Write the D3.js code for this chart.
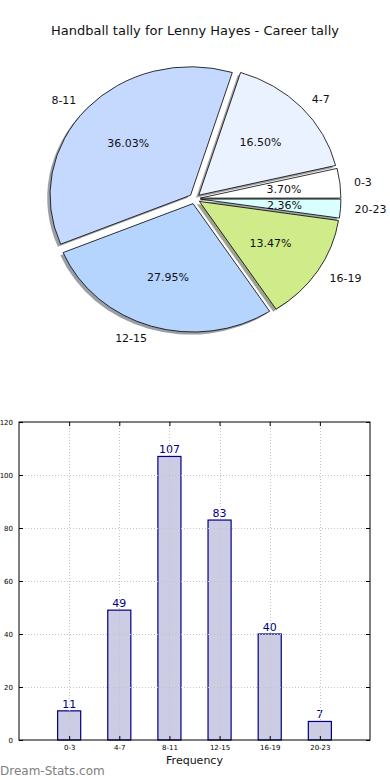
<!DOCTYPE html>
<html>
<head>
<meta charset="utf-8">
<script src="https://cdn.jsdelivr.net/npm/d3@7"></script>
<style>
  body { margin: 0; background: #fff; }
  svg { display: block; font-family: "DejaVu Sans", sans-serif; }
</style>
</head>
<body>
<svg id="chart" width="390" height="780" viewBox="0 0 390 780"></svg>
<script>
const categories = ["0-3", "4-7", "8-11", "12-15", "16-19", "20-23"];
const counts = [11, 49, 107, 83, 40, 7];
const pieColors = ["#ffffff", "#ebf2ff", "#c5d9ff", "#b5d5ff", "#d0eb8a", "#daffff"];
const yTicks = [0, 20, 40, 60, 80, 100, 120];

const svg = d3.select("#chart");
const total = d3.sum(counts);

svg.append("text")
  .attr("x", 195)
  .attr("y", 35)
  .attr("text-anchor", "middle")
  .attr("font-size", 13)
  .attr("fill", "#111")
  .text("Handball tally for Lenny Hayes - Career tally");

// pie (elliptical, like an unequal-aspect matplotlib pie)
const cx = 194.7, cy = 198.7, rx = 140.6, ry = 128.5;
const explode = 0.04;

const pie = d3.pie()
  .sort(null)
  .startAngle(Math.PI / 2)
  .endAngle(Math.PI / 2 - 2 * Math.PI)
  .value(d => d);

const arcs = pie(counts);
const arc = d3.arc().innerRadius(0).outerRadius(1);

// d3 angle -> offset direction (screen coords)
const dir = a => [Math.sin(a), -Math.cos(a)];

const slices = arcs.map((a, i) => {
  const mid = (a.startAngle + a.endAngle) / 2;
  const [ux, uy] = dir(mid);
  return {
    a, i, ux, uy,
    ox: cx + explode * rx * ux,
    oy: cy + explode * ry * uy
  };
});

const pieG = svg.append("g");

pieG.selectAll(".shadow")
  .data(slices)
  .join("path")
  .attr("class", "shadow")
  .attr("transform", d => `translate(${d.ox - 0.02 * rx}, ${d.oy + 0.02 * ry}) scale(${rx}, ${ry})`)
  .attr("d", d => arc(d.a))
  .attr("fill", d => {
    const c = d3.rgb(pieColors[d.i]);
    return d3.rgb(c.r * 0.3, c.g * 0.3, c.b * 0.3);
  })
  .attr("opacity", 0.5);

pieG.selectAll(".wedge")
  .data(slices)
  .join("path")
  .attr("class", "wedge")
  .attr("transform", d => `translate(${d.ox}, ${d.oy}) scale(${rx}, ${ry})`)
  .attr("d", d => arc(d.a))
  .attr("fill", d => pieColors[d.i])
  .attr("stroke", "#000")
  .attr("stroke-width", 0.8)
  .attr("vector-effect", "non-scaling-stroke")
  .attr("stroke-linejoin", "round");

pieG.selectAll(".plabel")
  .data(slices)
  .join("text")
  .attr("class", "plabel")
  .attr("x", d => d.ox + 1.1 * rx * d.ux)
  .attr("y", d => d.oy + 1.1 * ry * d.uy)
  .attr("dy", "0.35em")
  .attr("text-anchor", d => d.ux < 0 ? "end" : "start")
  .attr("font-size", 11)
  .attr("fill", "#111")
  .text(d => categories[d.i]);

pieG.selectAll(".pct")
  .data(slices)
  .join("text")
  .attr("class", "pct")
  .attr("x", d => d.ox + 0.6 * rx * d.ux)
  .attr("y", d => d.oy + 0.6 * ry * d.uy)
  .attr("dy", "0.35em")
  .attr("text-anchor", "middle")
  .attr("font-size", 11)
  .attr("fill", "#111")
  .text(d => (counts[d.i] / total * 100).toFixed(2) + "%");

// bar chart
const box = { left: 19, right: 370, top: 422, bottom: 740 };

const x = d3.scaleLinear()
  .domain([-1, categories.length])
  .range([box.left, box.right]);

const y = d3.scaleLinear()
  .domain([0, 120])
  .range([box.bottom, box.top]);

const barW = 0.46;
const barG = svg.append("g");

barG.selectAll(".bar")
  .data(counts)
  .join("rect")
  .attr("class", "bar")
  .attr("x", (d, i) => x(i - barW / 2))
  .attr("width", x(barW) - x(0))
  .attr("y", d => y(d))
  .attr("height", d => y(0) - y(d))
  .attr("fill", "#ccccE5")
  .attr("stroke", "#000080")
  .attr("stroke-width", 1.2);

// grid on top, as in the reference
const grid = svg.append("g")
  .attr("stroke", "#c4c4c4")
  .attr("stroke-width", 1)
  .attr("stroke-dasharray", "1,2");

grid.selectAll(".gx")
  .data(categories)
  .join("line")
  .attr("x1", (d, i) => Math.round(x(i)) + 0.5)
  .attr("x2", (d, i) => Math.round(x(i)) + 0.5)
  .attr("y1", box.top)
  .attr("y2", box.bottom);

grid.selectAll(".gy")
  .data(yTicks.slice(1, -1))
  .join("line")
  .attr("x1", box.left)
  .attr("x2", box.right)
  .attr("y1", d => Math.round(y(d)) + 0.5)
  .attr("y2", d => Math.round(y(d)) + 0.5);

barG.selectAll(".val")
  .data(counts)
  .join("text")
  .attr("class", "val")
  .attr("x", (d, i) => x(i))
  .attr("y", d => y(d) - 3)
  .attr("text-anchor", "middle")
  .attr("font-size", 11)
  .attr("fill", "#000080")
  .text(d => d);

svg.append("g")
  .attr("transform", `translate(${box.left}, 0)`)
  .call(d3.axisLeft(y).tickValues(yTicks).tickSize(-4).tickPadding(6))
  .call(g => g.select(".domain").remove())
  .call(g => g.selectAll("text").attr("font-size", 7).attr("fill", "#000").attr("font-family", "DejaVu Sans"));

svg.append("g")
  .attr("transform", `translate(${box.right}, 0)`)
  .call(d3.axisRight(y).tickValues(yTicks).tickSize(-4).tickFormat(""))
  .call(g => g.select(".domain").remove());

svg.append("g")
  .attr("transform", `translate(0, ${box.bottom})`)
  .call(d3.axisBottom(x).tickValues(d3.range(categories.length)).tickFormat(i => categories[i]).tickSize(-4).tickPadding(5))
  .call(g => g.select(".domain").remove())
  .call(g => g.selectAll("text").attr("font-size", 7).attr("fill", "#000").attr("font-family", "DejaVu Sans"));

svg.append("g")
  .attr("transform", `translate(0, ${box.top})`)
  .call(d3.axisTop(x).tickValues(d3.range(categories.length)).tickSize(-4).tickFormat(""))
  .call(g => g.select(".domain").remove());

svg.append("rect")
  .attr("x", box.left)
  .attr("y", box.top)
  .attr("width", box.right - box.left)
  .attr("height", box.bottom - box.top)
  .attr("fill", "none")
  .attr("stroke", "#000")
  .attr("stroke-width", 1);

svg.append("text")
  .attr("x", (box.left + box.right) / 2)
  .attr("y", 764)
  .attr("text-anchor", "middle")
  .attr("font-size", 11)
  .attr("fill", "#111")
  .text("Frequency");

svg.append("text")
  .attr("x", 0)
  .attr("y", 775)
  .attr("font-size", 12)
  .attr("fill", "#808080")
  .text("Dream-Stats.com");
</script>
</body>
</html>
